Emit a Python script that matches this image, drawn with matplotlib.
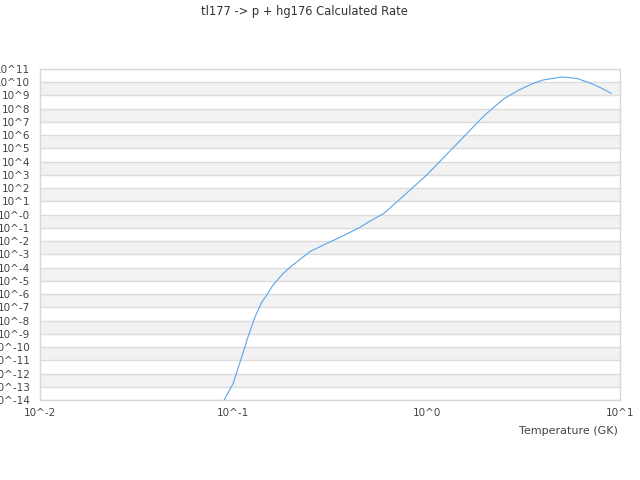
import matplotlib
matplotlib.use("Agg")
import matplotlib.pyplot as plt
import numpy as np

title = "tl177 -> p + hg176 Calculated Rate"
xlabel = "Temperature (GK)"

temperature = [0.09, 0.1, 0.11, 0.12, 0.13, 0.14, 0.15, 0.16, 0.18, 0.2, 0.25, 0.3,
               0.35, 0.4, 0.45, 0.5, 0.6, 0.7, 0.8, 0.9, 1.0, 1.5, 2.0, 2.5, 3.0,
               3.5, 4.0, 5.0, 6.0, 7.0, 8.0, 9.0]
log_rate = [-13.96, -12.72, -10.83, -9.09, -7.66, -6.64, -5.99, -5.35, -4.48, -3.88,
            -2.78, -2.22, -1.76, -1.35, -0.97, -0.56, 0.09, 0.95, 1.71, 2.39, 2.99,
            5.64, 7.53, 8.73, 9.41, 9.87, 10.17, 10.40, 10.28, 9.94, 9.56, 9.16]

y_exponents = list(range(-14, 12))
x_exponents = [-2, -1, 0, 1]

rate = [10.0 ** v for v in log_rate]

fig = plt.figure(figsize=(6.4, 4.8), dpi=100)
ax = fig.add_axes([0.0625, 0.1667, 0.90625, 0.6896])

ax.set_xscale("log")
ax.set_yscale("log")
ax.set_xlim(10.0 ** x_exponents[0], 10.0 ** x_exponents[-1])
ax.set_ylim(10.0 ** y_exponents[0], 10.0 ** y_exponents[-1])

# alternating bands
for n in y_exponents:
    if n % 2 == 0 and n - 1 >= y_exponents[0]:
        ax.axhspan(10.0 ** (n - 1), 10.0 ** n, color="#f2f2f2", zorder=0, lw=0)
for n in y_exponents:
    ax.axhline(10.0 ** n, color="#dcdcdc", lw=1.0, zorder=1)

ax.plot(temperature, rate, color="#5aa5ea", lw=0.8, zorder=3)

def yfmt(n):
    return "10^-0" if n == 0 else f"10^{n}"

ax.set_yticks([10.0 ** n for n in y_exponents])
ax.set_yticklabels([yfmt(n) for n in y_exponents])
ax.set_xticks([10.0 ** n for n in x_exponents])
ax.set_xticklabels([f"10^{n}" for n in x_exponents])
ax.minorticks_off()
ax.tick_params(axis="both", length=0, labelsize=7.5, labelcolor="#444444")
ax.tick_params(axis="y", pad=7)
ax.tick_params(axis="x", pad=6)

for s in ax.spines.values():
    s.set_color("#d8d8d8")
    s.set_linewidth(1.0)

fig.text(304 / 640, 1 - 12 / 480, title, ha="center", va="center", fontsize=8.3, color="#333333")
fig.text(618 / 640, 1 - 431 / 480, xlabel, ha="right", va="center", fontsize=8, color="#444444")

fig.savefig("out.png", dpi=100)
